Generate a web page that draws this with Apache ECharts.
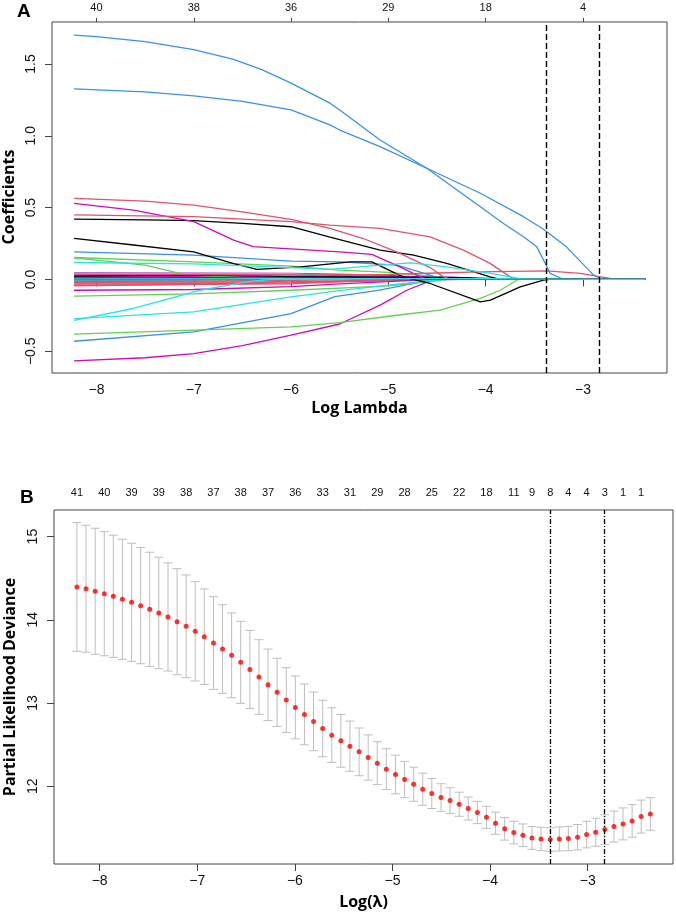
<!DOCTYPE html>
<html><head><meta charset="utf-8">
<script src="https://cdn.jsdelivr.net/npm/echarts@6/dist/echarts.min.js"></script>
<style>html,body{margin:0;padding:0;background:#fff}#c{width:676px;height:914px}</style>
</head><body><div id="c"></div>
<script>
// ---------- Panel A: coefficient paths (log lambda, coefficient) ----------
const xTicksA = [-8, -7, -6, -5, -4, -3];
const topLabelsA = ['40', '38', '36', '29', '18', '4'];
const yTicksA = [-0.5, 0, 0.5, 1.0, 1.5];

const blue1 = [[-8.23,1.70],[-8.0,1.69],[-7.5,1.655],[-7.0,1.60],[-6.6,1.534],[-6.3,1.46],[-6.0,1.367],[-5.6,1.227],[-5.5,1.18],[-5.085,0.971],[-4.605,0.774],[-4.054,0.506],[-3.817,0.39],[-3.611,0.297],[-3.474,0.227],[-3.405,0.135],[-3.336,0.042],[-3.23,0.01],[-3.18,0],[-2.358,0]];
const blue2 = [[-8.23,1.327],[-7.5,1.305],[-7.0,1.278],[-6.5,1.24],[-6.0,1.18],[-5.6,1.076],[-5.5,1.04],[-5.085,0.925],[-4.605,0.774],[-4.054,0.600],[-3.611,0.437],[-3.405,0.349],[-3.17,0.227],[-2.89,0.03],[-2.84,0.014],[-2.80,0],[-2.358,0]];
const red1 = [[-8.23,0.565],[-7.5,0.545],[-7.0,0.518],[-6.5,0.47],[-6.0,0.418],[-5.6,0.355],[-5.257,0.285],[-4.914,0.192],[-4.571,0.083],[-4.434,0.018],[-4.35,0],[-2.358,0]];
const red2 = [[-8.23,0.449],[-7.0,0.437],[-6.0,0.402],[-5.6,0.378],[-5.085,0.356],[-4.571,0.297],[-4.228,0.204],[-3.954,0.112],[-3.748,0.018],[-3.7,0],[-2.358,0]];
const red3 = [[-8.23,0.035],[-6.0,0.03],[-5.0,0.035],[-4.5,0.045],[-4.054,0.053],[-3.37,0.06],[-3.03,0.042],[-2.72,0.007],[-2.68,0],[-2.358,0]];
const magenta1 = [[-8.23,0.53],[-7.62,0.483],[-7.0,0.402],[-6.59,0.274],[-6.39,0.228],[-5.5,0.192],[-5.17,0.175],[-4.88,0.088],[-4.67,0.018],[-4.6,0],[-2.358,0]];
const black1 = [[-8.23,0.42],[-7.5,0.415],[-7.0,0.409],[-6.5,0.39],[-6.0,0.367],[-5.6,0.295],[-5.085,0.204],[-4.74,0.17],[-4.40,0.112],[-3.954,0.018],[-3.85,0],[-2.358,0]];
const black2 = [[-8.23,0.286],[-7.62,0.24],[-7.0,0.192],[-6.59,0.111],[-6.35,0.07],[-5.9,0.088],[-5.39,0.123],[-5.17,0.123],[-4.85,0.018],[-4.571,-0.028],[-4.054,-0.156],[-3.95,-0.144],[-3.645,-0.052],[-3.405,-0.005],[-3.336,0],[-2.358,0]];
const black3 = [[-8.23,0.023],[-7.21,0.03],[-6.25,0.025],[-6.0,0.018],[-5.39,0.018],[-4.2,0.012],[-3.95,0],[-2.358,0]];
const blue3 = [[-8.23,0.192],[-7.0,0.169],[-6.0,0.128],[-5.5,0.123],[-4.91,0.1],[-4.57,0.03],[-4.45,0],[-2.358,0]];
const green1 = [[-8.23,0.153],[-7.0,0.123],[-6.0,0.093],[-5.5,0.065],[-5.0,0.05],[-4.5,0.02],[-4.3,0],[-2.358,0]];
const green2 = [[-8.23,0.15],[-7.5,0.1],[-7.07,0.03],[-6.5,0.015],[-5.5,0],[-2.358,0]];
const cyan1 = [[-8.23,0.118],[-7.0,0.108],[-6.0,0.083],[-5.6,0.07],[-5.085,0.1],[-4.77,0.116],[-4.4,0.088],[-3.95,0.042],[-3.6,0],[-2.358,0]];
const cyan2 = [[-8.23,-0.285],[-7.62,-0.202],[-6.93,-0.075],[-6.45,-0.016],[-6.2,0],[-2.358,0]];
const cyan3 = [[-8.23,-0.272],[-7.0,-0.226],[-6.0,-0.121],[-5.5,-0.078],[-5.0,-0.04],[-4.6,-0.01],[-4.4,0],[-2.358,0]];
const magenta2 = [[-8.23,-0.075],[-7.0,-0.07],[-6.0,-0.05],[-5.5,-0.03],[-5.0,-0.015],[-4.6,0],[-2.358,0]];
const green3 = [[-8.23,-0.116],[-7.0,-0.1],[-6.0,-0.075],[-5.5,-0.06],[-5.0,-0.045],[-4.57,-0.015],[-4.4,0],[-2.358,0]];
const green4 = [[-8.23,-0.381],[-7.0,-0.353],[-6.0,-0.33],[-5.5,-0.3],[-4.914,-0.249],[-4.468,-0.214],[-4.054,-0.132],[-3.85,-0.075],[-3.68,-0.005],[-3.65,0],[-2.358,0]];
const blue4 = [[-8.23,-0.43],[-7.0,-0.365],[-6.0,-0.237],[-5.55,-0.12],[-5.09,-0.074],[-4.57,-0.005],[-4.5,0],[-2.358,0]];
const magenta3 = [[-8.23,-0.567],[-7.5,-0.545],[-7.0,-0.516],[-6.5,-0.46],[-6.0,-0.388],[-5.5,-0.31],[-5.085,-0.179],[-4.81,-0.075],[-4.57,-0.01],[-4.5,0],[-2.358,0]];
// small coefficients clustered around zero
const near1 = [[-8.23,0.046],[-6.0,0.042],[-5.0,0.03],[-4.5,0],[-2.358,0]];
const near2 = [[-8.23,0.037],[-6.0,0.033],[-5.2,0.01],[-5.0,0],[-2.358,0]];
const near3 = [[-8.23,0.042],[-6.0,0.04],[-5.0,0.01],[-4.8,0],[-2.358,0]];
const near4 = [[-8.23,0.016],[-6.0,0.013],[-4.0,0.008],[-3.5,0],[-2.358,0]];
const near5 = [[-8.23,0.0],[-6.0,0.0],[-5.5,0],[-2.358,0]];
const near6 = [[-8.23,0.028],[-6.5,0.02],[-5.5,0.005],[-5.3,0],[-2.358,0]];
const near7 = [[-8.23,-0.02],[-6.0,-0.015],[-4.6,0],[-2.358,0]];
const near8 = [[-8.23,-0.026],[-6.0,-0.022],[-5.0,-0.01],[-4.2,0],[-2.358,0]];
const near9 = [[-8.23,-0.033],[-6.0,-0.025],[-4.8,0],[-2.358,0]];
const near10 = [[-8.23,-0.04],[-6.0,-0.03],[-5.5,-0.015],[-5.0,0],[-2.358,0]];
const near11 = [[-8.23,-0.045],[-6.5,-0.03],[-5.8,0],[-2.358,0]];
const near12 = [[-8.23,-0.01],[-6.5,-0.008],[-6.0,0],[-2.358,0]];
const near13 = [[-8.23,0.009],[-7.0,0.006],[-6.6,0],[-2.358,0]];
const near14 = [[-8.23,0.005],[-7.0,0.004],[-6.7,0],[-2.358,0]];
const near15 = [[-8.23,-0.005],[-7.0,-0.004],[-6.8,0],[-2.358,0]];
const near16 = [[-8.23,-0.015],[-7.0,-0.012],[-5.8,-0.005],[-5.2,0],[-2.358,0]];
const near17 = [[-8.23,0.012],[-6.0,0.01],[-4.5,0.005],[-3.2,0.003],[-2.95,0],[-2.358,0]];
const near18 = [[-8.23,0.003],[-7.5,0.002],[-7.2,0],[-2.358,0]];
const near19 = [[-8.23,0.02],[-6.0,0.02],[-5.5,0.025],[-4.5,0.02],[-3.8,0],[-2.358,0]];
const near20 = [[-8.23,0.009],[-6.0,0.008],[-4.0,0.005],[-3.2,0.002],[-2.9,0],[-2.358,0]];

// ---------- Panel B: cross-validation curve ----------
const logLambda = [-8.233,-8.140,-8.046,-7.953,-7.860,-7.767,-7.673,-7.580,-7.487,-7.394,
  -7.300,-7.207,-7.114,-7.021,-6.928,-6.834,-6.741,-6.648,-6.555,-6.461,
  -6.368,-6.275,-6.182,-6.088,-5.995,-5.902,-5.809,-5.715,-5.622,-5.529,
  -5.436,-5.342,-5.249,-5.156,-5.063,-4.969,-4.876,-4.783,-4.690,-4.597,
  -4.503,-4.410,-4.317,-4.224,-4.130,-4.037,-3.944,-3.851,-3.757,-3.664,
  -3.571,-3.478,-3.384,-3.291,-3.198,-3.104,-3.011,-2.918,-2.825,-2.731,
  -2.638,-2.545,-2.452,-2.358];
const cvMean = [14.395,14.374,14.343,14.314,14.283,14.247,14.211,14.170,14.126,14.082,
  14.034,13.977,13.922,13.862,13.797,13.721,13.649,13.573,13.489,13.404,
  13.312,13.219,13.128,13.035,12.947,12.863,12.779,12.694,12.614,12.545,
  12.481,12.413,12.345,12.277,12.205,12.141,12.081,12.024,11.964,11.912,
  11.864,11.828,11.783,11.732,11.684,11.626,11.555,11.488,11.443,11.411,
  11.378,11.366,11.359,11.366,11.371,11.387,11.419,11.447,11.479,11.515,
  11.547,11.583,11.635,11.666];
const cvSd = [0.774,0.763,0.758,0.746,0.734,0.722,0.710,0.698,0.686,0.670,
  0.650,0.638,0.617,0.597,0.574,0.557,0.533,0.509,0.493,0.469,
  0.449,0.430,0.409,0.390,0.378,0.365,0.352,0.340,0.328,0.317,
  0.302,0.287,0.272,0.258,0.245,0.232,0.218,0.205,0.193,0.180,
  0.166,0.154,0.145,0.138,0.134,0.132,0.133,0.136,0.136,0.136,
  0.137,0.140,0.142,0.144,0.146,0.152,0.160,0.168,0.178,0.186,
  0.192,0.196,0.198,0.196];
const nzeroIdx = [0,3,6,9,12,15,18,21,24,27,30,33,36,39,42,45,48,50,52,54,56,58,60,62];
const nzeroLabels = ['41','40','39','39','38','37','38','37','36','33','31','29','28','25','22','18','11','9','8','4','4','3','1','1'];
const xTicksB = [-8, -7, -6, -5, -4, -3];
const yTicksB = [12, 13, 14, 15];
const lambdaMinLog = -3.384;
const lambda1seLog = -2.825;

// ---------- build ----------
const COL = {black:'#000000', red:'#DF536B', green:'#61D04F', blue:'#3A90E6', cyan:'#28E2E5', magenta:'#CD0BBC'};
const coefPaths = [
  [near1,'magenta'],[near2,'red'],[near3,'cyan'],[near4,'black'],[near5,'green'],[near6,'blue'],
  [near7,'red'],[near8,'red'],[near9,'red'],[near10,'red'],[near11,'red'],[near12,'green'],
  [near13,'cyan'],[near14,'black'],[near15,'blue'],[near16,'red'],[near18,'blue'],[near19,'magenta'],
  [magenta3,'magenta'],[blue4,'blue'],[green4,'green'],[green3,'green'],[magenta2,'magenta'],
  [cyan3,'cyan'],[cyan2,'cyan'],[green2,'green'],[green1,'green'],[blue3,'blue'],
  [black3,'black'],[black2,'black'],[black1,'black'],[magenta1,'magenta'],[red3,'red'],
  [red2,'red'],[red1,'red'],[blue2,'blue'],[blue1,'blue'],[cyan1,'cyan'],[near17,'black'],[near20,'cyan']
];

const minus = v => String(v).replace('-', '\u2212');
const tickFont = '"Liberation Sans", Arial, sans-serif';
const titleFont = '"Open Sans", "Noto Sans", sans-serif';
const titleStyle = {color:'#000', fontFamily:titleFont, fontWeight:'bold', fontSize:16};
const topPosB = nzeroIdx.map(i => logLambda[i]);

const seriesA = coefPaths.map(([d, c]) => ({
  type:'line', xAxisIndex:0, yAxisIndex:0, data:d, showSymbol:false, silent:true,
  lineStyle:{color:COL[c], width:1.3}, z:2
}));
seriesA[seriesA.length - 1].markLine = {
  symbol:['none','none'], silent:true, label:{show:false},
  lineStyle:{color:'#000', type:[6,3], width:1.4},
  data:[{xAxis:lambdaMinLog},{xAxis:lambda1seLog}]
};

const seriesB = [
  {
    type:'custom', xAxisIndex:2, yAxisIndex:1, silent:true, z:2,
    data: logLambda.map((x, i) => [x, cvMean[i], cvSd[i]]),
    encode:{x:0, y:1},
    renderItem:(params, api) => {
      const x = api.value(0), m = api.value(1), s = api.value(2);
      const t = api.coord([x, m + s]), b = api.coord([x, m - s]);
      const w = 4.5, st = {stroke:'#BDBDBD', lineWidth:1};
      return {type:'group', children:[
        {type:'line', shape:{x1:t[0], y1:t[1], x2:b[0], y2:b[1]}, style:st},
        {type:'line', shape:{x1:t[0]-w, y1:t[1], x2:t[0]+w, y2:t[1]}, style:st},
        {type:'line', shape:{x1:b[0]-w, y1:b[1], x2:b[0]+w, y2:b[1]}, style:st}
      ]};
    }
  },
  {
    type:'scatter', xAxisIndex:2, yAxisIndex:1, silent:true, z:3,
    data: logLambda.map((x, i) => [x, cvMean[i]]),
    symbolSize:5, itemStyle:{color:'#FF0000'},
    markLine:{
      symbol:['none','none'], silent:true, label:{show:false},
      lineStyle:{color:'#000', type:[5,2,1,2], width:1.3},
      data:[{xAxis:lambdaMinLog},{xAxis:lambda1seLog}]
    }
  }
];

const baseX = (grid, pos) => ({
  gridIndex:grid, type:'value', position:pos,
  axisLine:{show:false}, splitLine:{show:false}
});

const option = {
  animation:false,
  backgroundColor:'#ffffff',
  grid:[
    {left:52, top:22, width:615, height:351, show:true, borderColor:'#444', borderWidth:1, backgroundColor:'#fff', containLabel:false, outerBoundsMode:'none'},
    {left:54, top:510, width:619, height:354, show:true, borderColor:'#444', borderWidth:1, backgroundColor:'#fff', containLabel:false, outerBoundsMode:'none'}
  ],
  xAxis:[
    Object.assign(baseX(0,'bottom'), {
      min:-8.457, max:-2.136,
      axisTick:{show:true, length:7, customValues:xTicksA, lineStyle:{color:'#444'}},
      axisLabel:{customValues:xTicksA, formatter:v => minus(Math.round(v)), fontSize:14, margin:10, color:'#111', fontFamily:tickFont},
      name:'Log Lambda', nameLocation:'middle', nameGap:27, nameTextStyle:titleStyle
    }),
    Object.assign(baseX(0,'top'), {
      min:-8.457, max:-2.136,
      axisTick:{show:true, length:4, customValues:xTicksA, lineStyle:{color:'#444'}},
      axisLabel:{customValues:xTicksA, formatter:v => topLabelsA[xTicksA.indexOf(Math.round(v))], fontSize:11, margin:9, color:'#111', fontFamily:tickFont}
    }),
    Object.assign(baseX(1,'bottom'), {
      min:-8.468, max:-2.126,
      axisTick:{show:true, length:7, customValues:xTicksB, lineStyle:{color:'#444'}},
      axisLabel:{customValues:xTicksB, formatter:v => minus(Math.round(v)), fontSize:14, margin:10, color:'#111', fontFamily:tickFont},
      name:'Log(\u03bb)', nameLocation:'middle', nameGap:30, nameTextStyle:titleStyle
    }),
    Object.assign(baseX(1,'top'), {
      min:-8.468, max:-2.126,
      axisTick:{show:false},
      axisLabel:{customValues:topPosB, formatter:v => {
        let j = 0, best = 1e9;
        topPosB.forEach((p, k) => { const d = Math.abs(p - v); if (d < best) { best = d; j = k; } });
        return nzeroLabels[j];
      }, fontSize:11, margin:12, color:'#111', fontFamily:tickFont}
    })
  ],
  yAxis:[
    {
      gridIndex:0, type:'value', min:-0.651, max:1.792,
      axisLine:{show:false}, splitLine:{show:false},
      axisTick:{show:true, length:7, customValues:yTicksA, lineStyle:{color:'#444'}},
      axisLabel:{customValues:yTicksA, rotate:90, formatter:v => minus(v.toFixed(1)), fontSize:14, margin:14, color:'#111', fontFamily:tickFont}
    },
    {
      gridIndex:1, type:'value', min:11.065, max:15.32,
      axisLine:{show:false}, splitLine:{show:false},
      axisTick:{show:true, length:7, customValues:yTicksB, lineStyle:{color:'#444'}},
      axisLabel:{customValues:yTicksB, rotate:90, formatter:v => String(Math.round(v)), fontSize:14, margin:14, color:'#111', fontFamily:tickFont}
    }
  ],
  graphic:[
    {type:'text', left:17, top:2, style:{text:'A', fontSize:19, fontWeight:'bold', fill:'#000', fontFamily:tickFont}},
    {type:'text', left:20, top:488, style:{text:'B', fontSize:19, fontWeight:'bold', fill:'#000', fontFamily:tickFont}},
    {type:'text', x:9, y:197, rotation:Math.PI/2,
      style:{text:'Coefficients', fontSize:16, fontWeight:'bold', fill:'#000', fontFamily:titleFont, align:'center', verticalAlign:'middle'}},
    {type:'text', x:10, y:687, rotation:Math.PI/2,
      style:{text:'Partial Likelihood Deviance', fontSize:16, fontWeight:'bold', fill:'#000', fontFamily:titleFont, align:'center', verticalAlign:'middle'}}
  ],
  series: seriesA.concat(seriesB)
};

const chart = echarts.init(document.getElementById('c'), null, {renderer:'canvas'});
chart.setOption(option);
</script></body></html>
